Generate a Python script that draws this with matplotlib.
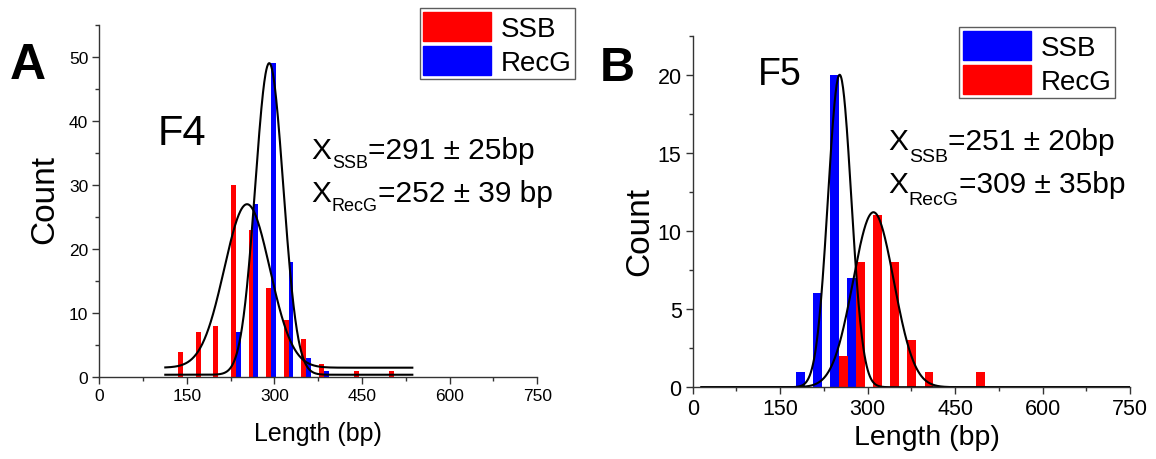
import numpy as np
import matplotlib
matplotlib.use('Agg')
import matplotlib.pyplot as plt
from matplotlib.patches import Patch
from matplotlib.ticker import MultipleLocator

plt.rcParams['font.family'] = ['Liberation Sans', 'DejaVu Sans']

# ---------------- Panel A (F4) ----------------
a_bins = [144, 174, 204, 234, 264, 294, 324, 354, 384, 414, 444, 474, 504]
a_ssb = [4, 7, 8, 30, 23, 14, 9, 6, 2, 0, 1, 0, 1]
a_recg = [0, 0, 0, 7, 27, 49, 18, 3, 1, 0, 0, 0, 0]
a_fit_narrow = dict(xc=291, sigma=24, amp=48.6, y0=0.4)
a_fit_broad = dict(xc=253, sigma=39, amp=25.5, y0=1.5)
a_fit_range = (113, 536)

# ---------------- Panel B (F5) ----------------
b_bins = [192, 221, 251, 280, 310, 339, 368, 398, 427, 457, 486]
b_ssb = [1, 6, 20, 7, 0, 0, 0, 0, 0, 0, 0]
b_recg = [0, 0, 2, 8, 11, 8, 3, 1, 0, 0, 1]
b_fit_ssb = dict(xc=252, sigma=20, amp=20.0, y0=0.0)
b_fit_recg = dict(xc=310, sigma=35, amp=11.2, y0=0.0)
b_fit_range = (15, 750)

x_ticks = [0, 150, 300, 450, 600, 750]

RED = '#FF0000'
BLUE = '#0000FF'
W, H = 1156, 460


def gauss(x, xc, sigma, amp, y0):
    return y0 + amp * np.exp(-(x - xc) ** 2 / (2 * sigma ** 2))


def style_axes(ax, ymax, ymajor, yminor, fs):
    ax.set_xlim(0, 750)
    ax.set_ylim(0, ymax)
    ax.spines['top'].set_visible(False)
    ax.spines['right'].set_visible(False)
    for s in ('left', 'bottom'):
        ax.spines[s].set_color('#333333')
        ax.spines[s].set_linewidth(1.0)
    ax.set_xticks(x_ticks)
    ax.xaxis.set_minor_locator(MultipleLocator(75))
    ax.yaxis.set_major_locator(MultipleLocator(ymajor))
    ax.yaxis.set_minor_locator(MultipleLocator(yminor))
    ax.tick_params(which='major', direction='out', length=5, width=1,
                   color='#333333', labelsize=fs, pad=3)
    ax.tick_params(which='minor', direction='out', length=3, width=1,
                   color='#333333')


fig = plt.figure(figsize=(W / 100, H / 100), dpi=100)

# Panel A axes
axA = fig.add_axes([99.3 / W, 1 - 378.3 / H, 438 / W, (378.3 - 25.7) / H])
wA = 8.5
axA.bar(np.array(a_bins) - wA / 2, a_ssb, width=wA, color=RED, linewidth=0)
axA.bar(np.array(a_bins) + wA / 2, a_recg, width=wA, color=BLUE, linewidth=0)
xa = np.linspace(a_fit_range[0], a_fit_range[1], 600)
axA.plot(xa, gauss(xa, **a_fit_narrow), color='black', lw=1.5)
axA.plot(xa, gauss(xa, **a_fit_broad), color='black', lw=1.5)
style_axes(axA, 55, 10, 5, 12.5)

# Panel B axes
axB = fig.add_axes([692.7 / W, 1 - 388.2 / H, 437.3 / W, (388.2 - 36.7) / H])
wB = 14.9
axB.bar(np.array(b_bins) - wB / 2, b_ssb, width=wB, color=BLUE, linewidth=0)
axB.bar(np.array(b_bins) + wB / 2, b_recg, width=wB, color=RED, linewidth=0)
xb = np.linspace(b_fit_range[0], b_fit_range[1], 800)
axB.plot(xb, gauss(xb, **b_fit_ssb), color='black', lw=1.5)
axB.plot(xb, gauss(xb, **b_fit_recg), color='black', lw=1.5)
style_axes(axB, 22.5, 5, 2.5, 15.5)


def ftext(x, y, s, **kw):
    return fig.text(x / W, 1 - y / H, s, **kw)


renderer = fig.canvas.get_renderer()


def sub_text(x, y, main, sub, rest, fs, sfs, drop):
    t1 = ftext(x, y, main, fontsize=fs, va='baseline')
    bb = t1.get_window_extent(renderer)
    x2 = bb.x1 + 0.5
    t2 = ftext(x2, y + drop, sub, fontsize=sfs, va='baseline')
    bb2 = t2.get_window_extent(renderer)
    ftext(bb2.x1 + 0.5, y, rest, fontsize=fs, va='baseline')


# Panel letters
ftext(10, 79, 'A', fontsize=36, fontweight='bold', va='baseline')
ftext(600, 81, 'B', fontsize=35, fontweight='bold', va='baseline')
# Panel names
ftext(158, 145, 'F4', fontsize=30, va='baseline')
ftext(758, 85, 'F5', fontsize=27, va='baseline')
# Axis labels
ftext(318, 441.5, 'Length (bp)', fontsize=18, ha='center', va='baseline')
ftext(927, 445, 'Length (bp)', fontsize=20.5, ha='center', va='baseline')
ftext(45, 200, 'Count', fontsize=24, ha='center', va='center', rotation=90)
ftext(640, 232, 'Count', fontsize=24, ha='center', va='center', rotation=90)
# Fit annotations
sub_text(311.5, 159.3, 'X', 'SSB', '=291 ± 25bp', 21.5, 13, 9)
sub_text(311.5, 201.7, 'X', 'RecG', '=252 ± 39 bp', 21.5, 13, 9)
sub_text(888.3, 150, 'X', 'SSB', '=251 ± 20bp', 21.5, 14, 12)
sub_text(888.3, 193, 'X', 'RecG', '=309 ± 35bp', 21.5, 14, 12)

# Legends
legA = fig.legend(handles=[Patch(color=RED, label='SSB'), Patch(color=BLUE, label='RecG')],
                  loc='upper left', bbox_to_anchor=(420 / W, 1 - 9.3 / H),
                  fontsize=20, frameon=True, fancybox=False, handlelength=2.45,
                  handleheight=1.25, labelspacing=0.15, handletextpad=0.35,
                  borderpad=0.12, borderaxespad=0)
legA.get_frame().set_edgecolor('#333333')
legA.get_frame().set_linewidth(1.0)
legB = fig.legend(handles=[Patch(color=BLUE, label='SSB'), Patch(color=RED, label='RecG')],
                  loc='upper left', bbox_to_anchor=(959.3 / W, 1 - 28.3 / H),
                  fontsize=20, frameon=True, fancybox=False, handlelength=2.45,
                  handleheight=1.25, labelspacing=0.15, handletextpad=0.35,
                  borderpad=0.12, borderaxespad=0)
legB.get_frame().set_edgecolor('#333333')
legB.get_frame().set_linewidth(1.0)

fig.savefig('out.png', dpi=100)
